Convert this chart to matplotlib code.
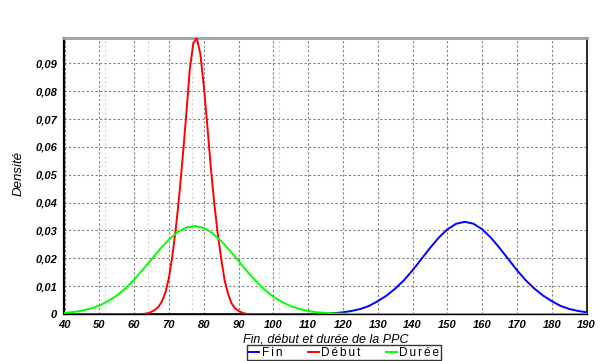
import numpy as np
from matplotlib import pyplot as plt
from matplotlib.ticker import FuncFormatter, MultipleLocator

# Fin (blue), grille de 2.5 de 40 a 190
x_fin = np.arange(40, 190.1, 2.5)
y_fin = [0.0] * 28 + [
    0.0, 0.00007, 0.00015, 0.0003, 0.0006, 0.0011, 0.0018, 0.0029,
    0.0046, 0.0066, 0.0091, 0.0121, 0.0157, 0.0197, 0.0237, 0.0274,
    0.0304, 0.0324, 0.0331, 0.0324, 0.0304, 0.0274, 0.0237, 0.0197,
    0.0157, 0.0121, 0.0091, 0.0066, 0.0046, 0.0029, 0.0018, 0.0011,
    0.0006]

# Debut (red), pas de 1 autour du pic
x_debut = [40] + list(range(62, 94)) + [190]
y_debut = [0.0,
           0.0, 0.0001, 0.0003, 0.0008, 0.0015, 0.0026, 0.0045, 0.0078,
           0.013, 0.021, 0.031, 0.043, 0.057, 0.072, 0.088, 0.0972,
           0.0991, 0.0935, 0.082, 0.068, 0.053, 0.040, 0.029, 0.020,
           0.012, 0.0072, 0.0038, 0.0020, 0.0011, 0.0005, 0.0001, 0.0,
           0.0]

# Duree (green)
x_duree = np.arange(40, 190.1, 2.5)
y_duree = [
    0.0004, 0.0007, 0.0012, 0.0019, 0.0030, 0.0046, 0.0066, 0.0092,
    0.0123, 0.0159, 0.0196, 0.0234, 0.0267, 0.0294, 0.0311, 0.0316,
    0.0309, 0.0290, 0.0262, 0.0228, 0.0190, 0.0153, 0.0118, 0.0087,
    0.0062, 0.0043, 0.0028, 0.0018, 0.0011, 0.0006, 0.0004, 0.0002,
    0.0001, 0.00005] + [0.0] * 27

lignes_claires = [51.5, 64, 76.5, 101.5]

plt.rcParams['font.family'] = ['Liberation Sans', 'DejaVu Sans']

fig = plt.figure(figsize=(6.05, 3.61), dpi=100)
ax = fig.add_axes([64 / 605, 47 / 361, 523 / 605, 276 / 361])

for xv in lignes_claires:
    ax.axvline(xv, color='#d4d4d4', lw=0.8, ls=(0, (2, 2)), zorder=0)
ax.grid(True, color='#808080', lw=0.8, ls=(0, (2, 2)))
ax.set_axisbelow(True)

sp = '\u2006'
ax.plot(x_fin, y_fin, c='#0000ff', lw=1.4, label=sp.join('Fin'), zorder=3)
ax.plot(x_debut, y_debut, c='#ff0000', lw=1.4, label=sp.join('Début'), zorder=4)
ax.plot(x_duree, y_duree, c='#00ff00', lw=1.4, label=sp.join('Durée'), zorder=5)

ax.set_xlim(39.85, 190.1)
ax.set_ylim(0, 0.0991)
ax.xaxis.set_major_locator(MultipleLocator(10))
ax.yaxis.set_major_locator(MultipleLocator(0.01))
ax.yaxis.set_major_formatter(FuncFormatter(
    lambda v, p: '0' if abs(v) < 1e-9 else f'{v:.2f}'.replace('.', ',')))
ax.tick_params(length=0, labelsize=8)
ax.tick_params(axis='y', pad=5)
ax.tick_params(axis='x', pad=4)
for lab in ax.get_xticklabels() + ax.get_yticklabels():
    lab.set_fontstyle('italic')
    lab.set_fontweight('bold')

for s in ['left', 'right', 'bottom']:
    ax.spines[s].set_color('black')
ax.spines['left'].set_linewidth(1.6)
ax.spines['right'].set_linewidth(1.2)
ax.spines['bottom'].set_linewidth(1.0)
ax.spines['top'].set_color('#a0a0a0')
ax.spines['top'].set_linewidth(2)

ax.set_xlabel('Fin, début et durée de la PPC', fontsize=9, style='italic')
ax.xaxis.set_label_coords(0.5, -0.07)
ax.set_ylabel('Densité', fontsize=9.5, style='italic')
ax.yaxis.set_label_coords(-0.075, 0.51)

leg = fig.legend(loc='lower center', bbox_to_anchor=(344 / 605, 0.0), ncol=3,
                 fontsize=8.5, frameon=True, fancybox=False, edgecolor='black',
                 handlelength=0.9, handletextpad=0.2, columnspacing=2.2,
                 borderpad=0.1, borderaxespad=0.1)
leg.get_frame().set_linewidth(1.0)

plt.savefig('out.png', dpi=100)
plt.close(fig)
